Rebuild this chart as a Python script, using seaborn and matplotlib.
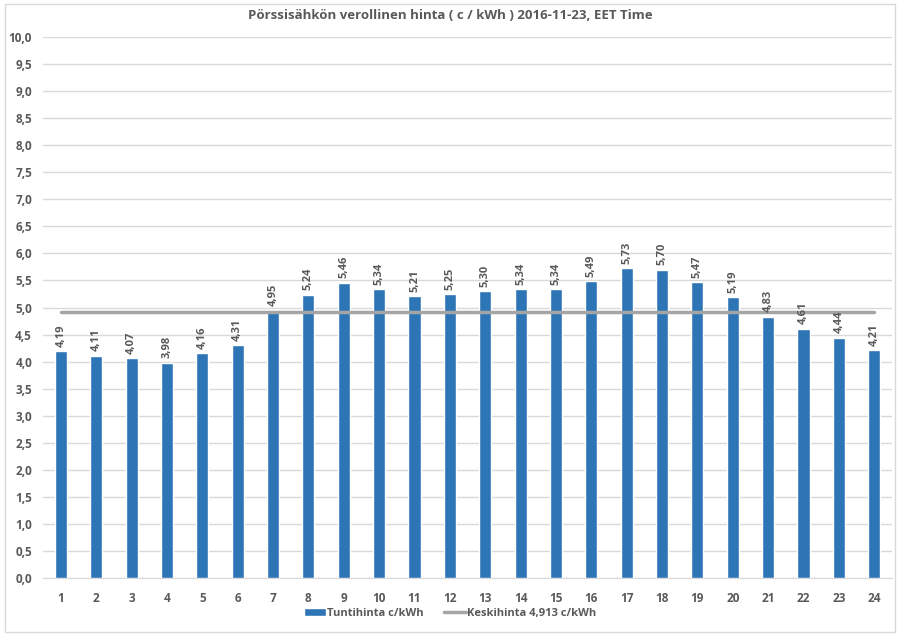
import numpy as np
import pandas as pd
import matplotlib
matplotlib.use('Agg')
import matplotlib.pyplot as plt
import seaborn as sns
from matplotlib.patches import Rectangle
from matplotlib.lines import Line2D
from matplotlib.patches import Patch

hours = list(range(1, 25))
prices = [4.19, 4.11, 4.07, 3.98, 4.16, 4.31, 4.95, 5.24, 5.46, 5.34, 5.21, 5.25,
          5.30, 5.34, 5.34, 5.49, 5.73, 5.70, 5.47, 5.19, 4.83, 4.61, 4.44, 4.21]
average = 4.913
title = "Pörssisähkön verollinen hinta ( c / kWh ) 2016-11-23, EET Time"
bar_label = "Tuntihinta c/kWh"
avg_label = "Keskihinta 4,913 c/kWh"

bar_color = "#2E75B6"
text_color = "#595959"

sns.set_style("white")
plt.rcParams['font.family'] = ['Open Sans', 'DejaVu Sans']
plt.rcParams['font.weight'] = 'bold'

df = pd.DataFrame({"hour": hours, "price": prices})

fig = plt.figure(figsize=(9, 6.36), dpi=100)
ax = fig.add_axes([0.048, 0.091, 0.943, 0.851])

sns.barplot(data=df, x="hour", y="price", color=bar_color, width=0.34,
            saturation=1, ax=ax, zorder=3)

# average line across category centres
ax.plot([0, len(hours) - 1], [average, average], color="#A5A5A5", lw=2.5, zorder=4)

for i, v in enumerate(prices):
    ax.text(i, v + 0.08, f"{v:.2f}".replace(".", ","), rotation=90, ha="center",
            va="bottom", fontsize=8, color=text_color, fontweight="bold", zorder=5)

ax.set_ylim(0, 10)
ax.set_xlim(-0.5, len(hours) - 0.5)
yt = np.arange(0, 10.01, 0.5)
ax.set_yticks(yt)
ax.set_yticklabels([f"{t:.1f}".replace(".", ",") for t in yt])
ax.grid(axis="y", color="#D9D9D9", lw=1, zorder=0)
ax.set_axisbelow(True)
for s in ["top", "right", "left"]:
    ax.spines[s].set_visible(False)
ax.spines["bottom"].set_color("#D9D9D9")
ax.tick_params(axis="both", length=0, labelsize=8.5, colors=text_color, pad=8)
ax.tick_params(axis="x", pad=10)
ax.set_xlabel("")
ax.set_ylabel("")

fig.text(0.5, 0.975, title, ha="center", va="center", fontsize=9.5,
         color=text_color, fontweight="bold")

handles = [Patch(facecolor=bar_color, label=bar_label),
           Line2D([0], [0], color="#A5A5A5", lw=2.5, label=avg_label)]
fig.legend(handles=handles, loc="center", bbox_to_anchor=(0.5, 0.035), ncol=2,
           frameon=False, fontsize=8, labelcolor=text_color, handlelength=2.0,
           handletextpad=0.1, columnspacing=1.8, handleheight=0.7)

fig.add_artist(Rectangle((0.006, 0.006), 0.988, 0.988, transform=fig.transFigure,
                         fill=False, edgecolor="#D9D9D9", lw=1))

fig.savefig("out.png", dpi=100)
